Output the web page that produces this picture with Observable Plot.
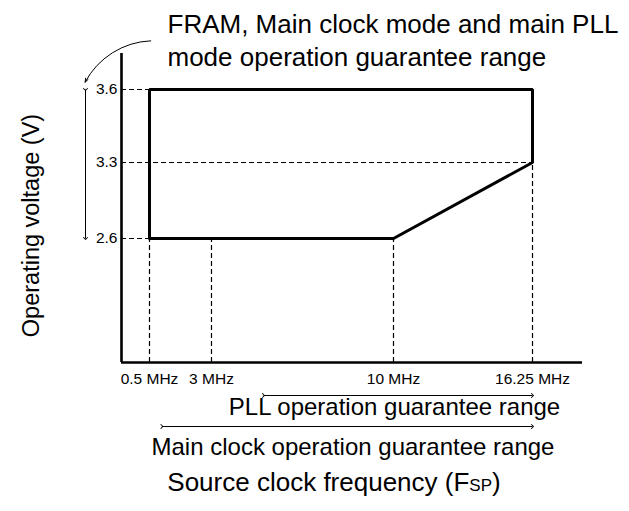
<!DOCTYPE html>
<html>
<head>
<meta charset="utf-8">
<script src="https://cdn.jsdelivr.net/npm/d3@7"></script>
<script src="https://cdn.jsdelivr.net/npm/@observablehq/plot@0.6"></script>
<style>
  body { margin: 0; background: #fff; }
</style>
</head>
<body>
<div id="chart"></div>
<script>
// ---- data ----
const freqTicks = [0.5, 3, 10, 16.25];                 // MHz
const freqLabels = ["0.5 MHz", "3 MHz", "10 MHz", "16.25 MHz"];
const voltTicks = [3.6, 3.3, 2.6];                     // V
const voltLabels = ["3.6", "3.3", "2.6"];
const regionFreq = [0.5, 0.5, 16.25, 16.25, 10, 0.5];  // guarantee region outline
const regionVolt = [2.6, 3.6, 3.6, 3.3, 2.6, 2.6];
const guideHEnd = [0.5, 16.25, 0.5];                   // where each voltage guide meets the region
const guideVEnd = [2.6, 2.6, 2.6, 3.3];                // where each frequency guide meets the region
const pllRange = [5, 16.25];
const mainClockRange = [1, 16.25];
const titleText = "FRAM, Main clock mode and main PLL\nmode operation guarantee range";
const pllText = "PLL operation guarantee range";
const mainText = "Main clock operation guarantee range";
const xTitle = "Source clock frequency (F";
const xTitleSub = "SP";
const yTitle = "Operating voltage (V)";

const region = regionFreq.map((f, i) => ({f, v: regionVolt[i]}));
const font = "'Liberation Sans', Arial, Helvetica, sans-serif";
const dash = {stroke: "#000", strokeWidth: 1.2, strokeDasharray: "5,3"};

const plot = Plot.plot({
  width: 629,
  height: 511,
  marginLeft: 121,
  marginRight: 47,
  marginTop: 53,
  marginBottom: 149,
  x: {type: "linear", domain: [0, ...freqTicks], range: [121, 149, 211, 393, 532], axis: null},
  y: {type: "linear", domain: [0, 2.6, 3.3, 3.6], range: [362, 238, 162, 89], axis: null},
  style: {fontFamily: font, background: "#fff", color: "#000"},
  marks: [
    // dashed guides
    Plot.ruleY(voltTicks, {y: d => d, x1: 0, x2: (d, i) => guideHEnd[i], ...dash}),
    Plot.ruleX(freqTicks, {x: d => d, y1: 0, y2: (d, i) => guideVEnd[i], ...dash}),
    // axes
    Plot.ruleX([0], {stroke: "#000", strokeWidth: 2.6}),
    Plot.ruleY([0], {stroke: "#000", strokeWidth: 2.6}),
    // region outline
    Plot.line(region, {x: "f", y: "v", stroke: "#000", strokeWidth: 3, strokeLinejoin: "miter"}),
    // tick labels
    Plot.text(freqTicks, {x: d => d, text: (d, i) => freqLabels[i], frameAnchor: "bottom", lineAnchor: "middle", dy: 17, fontSize: 15.5, fill: "#000"}),
    Plot.text(voltTicks, {y: d => d, text: (d, i) => voltLabels[i], frameAnchor: "left", lineAnchor: "middle", textAnchor: "end", dx: -4, fontSize: 15.5, fill: "#000"}),
    // voltage span arrow on left
    Plot.link([voltTicks], {x1: 0, x2: 0, y1: d => d[0], y2: d => d[2], dx: -36, stroke: "#000", strokeWidth: 1, markerStart: "arrow", markerEnd: "arrow"}),
    // callout arrow from title
    Plot.arrow([0], {x1: 0.55, y1: 3.8, x2: -0.65, y2: 3.63, bend: -30, stroke: "#000", strokeWidth: 1, headLength: 6, headAngle: 40}),
    // range arrows under the axis
    Plot.link([pllRange], {x1: d => d[0], x2: d => d[1], y1: 0, y2: 0, dy: 33, stroke: "#000", strokeWidth: 1, markerStart: "arrow", markerEnd: "arrow"}),
    Plot.link([mainClockRange], {x1: d => d[0], x2: d => d[1], y1: 0, y2: 0, dy: 64, stroke: "#000", strokeWidth: 1, markerStart: "arrow", markerEnd: "arrow"}),
    Plot.text([pllText], {text: d => d, frameAnchor: "bottom", lineAnchor: "middle", dx: 42.5, dy: 44.5, fontSize: 24, fill: "#000"}),
    Plot.text([mainText], {text: d => d, frameAnchor: "bottom", lineAnchor: "middle", dx: 1, dy: 84.5, fontSize: 24, fill: "#000"}),
    // title
    Plot.text([titleText], {text: d => d, frameAnchor: "top-left", textAnchor: "start", lineAnchor: "top", dx: 46, dy: -43, fontSize: 26, lineHeight: 1.24, fill: "#000"}),
    // y title
    Plot.text([yTitle], {text: d => d, frameAnchor: "left", textAnchor: "middle", lineAnchor: "middle", rotate: -90, dx: -90, dy: 17.5, fontSize: 23.5, fill: "#000"})
  ]
});

// x title with small "SP" suffix
const svg = d3.select(plot);
const t = svg.append("text")
  .attr("x", 334).attr("y", 491)
  .attr("text-anchor", "middle")
  .attr("font-family", font)
  .attr("font-size", 26)
  .attr("fill", "#000");
t.append("tspan").text(xTitle);
t.append("tspan").attr("font-size", 17).text(xTitleSub);
t.append("tspan").text(")");

document.getElementById("chart").appendChild(plot);
</script>
</body>
</html>
